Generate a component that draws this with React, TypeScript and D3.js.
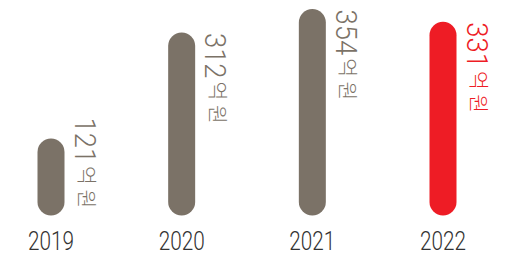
import React from "react";
import * as d3 from "d3";

const years = ["2019", "2020", "2021", "2022"];
const values = [121, 312, 354, 331];
const unitLabel = "억 원";
const highlightYear = "2022";

const W = 509;
const H = 257;
const GRAY = "#7b7267";
const RED = "#ee1c25";

export default function App() {
  const x = d3.scalePoint<string>().domain(years).range([51, 443]);
  const y = d3.scaleLinear().domain([0, 354]).range([205.7, 9.1]);
  const bottom = 215.5;
  const barW = 27;
  const digitAdv = 15.2;
  const labelLen = 97;

  return (
    <svg
      width={W}
      height={H}
      viewBox={`0 0 ${W} ${H}`}
      style={{ position: "absolute", left: 0, top: 0, background: "#fff" }}
    >
      {years.map((yr, i) => {
        const v = values[i];
        const cx = x(yr)!;
        const top = y(v);
        const color = yr === highlightYear ? RED : GRAY;
        const numStr = String(v);
        const numLen = numStr.length * digitAdv;
        const start = Math.min(top + 0.5, bottom - labelLen - 1);
        const bx = cx + 23.5;
        return (
          <g key={yr}>
            <rect
              x={cx - barW / 2}
              y={top}
              width={barW}
              height={bottom - top}
              rx={barW / 2}
              ry={barW / 2}
              fill={color}
            />
            <g transform={`translate(${bx},${start}) rotate(90)`}>
              <text
                x={0}
                y={0}
                fontFamily="Roboto, 'Noto Sans CJK KR', sans-serif"
                fontWeight={300}
                fontSize={30}
                fill={color}
                textLength={numLen}
                lengthAdjust="spacingAndGlyphs"
              >
                {numStr}
              </text>
              <text
                x={numLen + 3}
                y={-4.5}
                fontFamily="'Noto Sans CJK KR', sans-serif"
                fontWeight={300}
                fontSize={20.5}
                fill={color}
              >
                {unitLabel}
              </text>
            </g>
            <text
              x={cx}
              y={250}
              textAnchor="middle"
              fontFamily="Roboto, 'Noto Sans CJK KR', sans-serif"
              fontWeight={300}
              fontSize={25}
              fill="#333"
              textLength={46}
              lengthAdjust="spacingAndGlyphs"
            >
              {yr}
            </text>
          </g>
        );
      })}
    </svg>
  );
}
